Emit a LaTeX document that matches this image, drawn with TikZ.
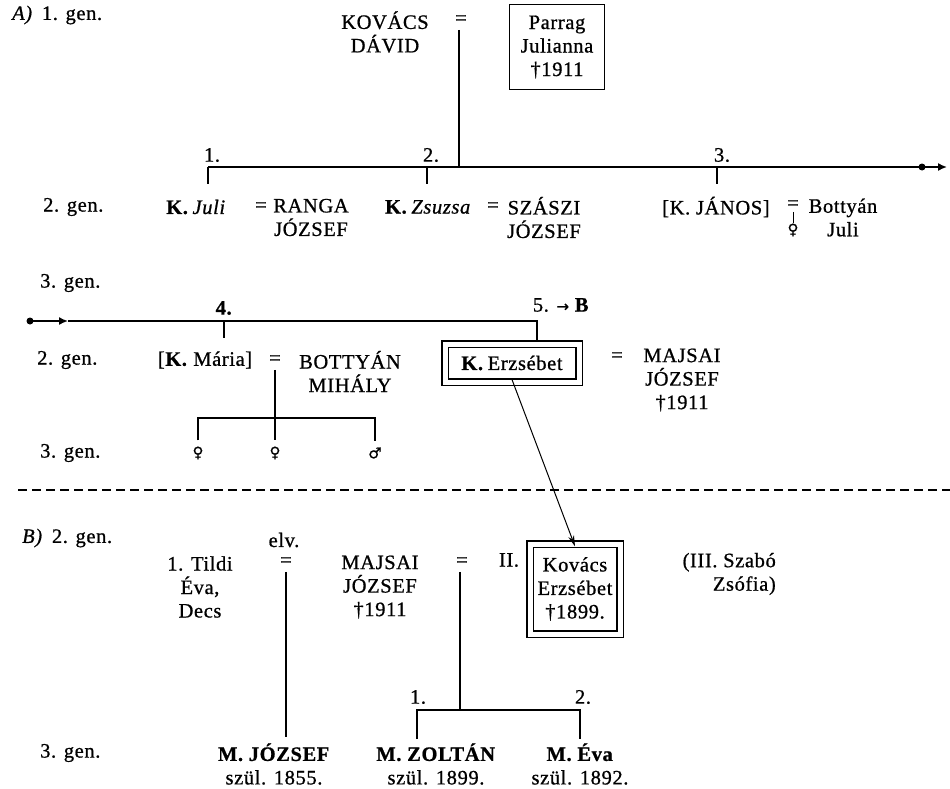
\documentclass[tikz,border=0pt]{standalone}
\usepackage{fontspec}
\setmainfont[LetterSpace=3,FakeBold=0.8]{Liberation Serif}
\newfontfamily\symf[FakeBold=0.8]{DejaVu Sans}
\usetikzlibrary{arrows.meta}
\newcommand{\kk}{\textbf{K.}\hspace{4pt}}
\begin{document}
\begin{tikzpicture}[x=1pt,y=-1pt,
  every node/.style={font=\fontsize{20.5}{23.5}\selectfont, inner sep=0pt, align=center},
  lw/.style={line width=1.6pt},
  thinline/.style={line width=1pt},
  lbl/.style={anchor=west},
  sym/.style={font=\symf\fontsize{15}{15}\selectfont},
  dbox/.style={draw, double, double distance=5pt, line width=1.2pt},
  sbox/.style={draw, line width=1.5pt},
  tip/.style={-{Latex[length=9pt,width=8pt]}}]
\useasboundingbox (0,0) rectangle (950,789);

% ---------------- A) 1. gen.
\node[lbl] (hA) at (12,15) {\textit{A)}\, 1. gen.};
\node (kovacs) at (385,32) {KOVÁCS\\DÁVID};
\node (eqA) at (461,20) {=};
\node[sbox, minimum width=95pt, minimum height=85pt] (parrag) at (557,47) {Parrag\\Julianna\\†1911};

\coordinate (jA) at (459,167);
\draw[lw] ([yshift=-5pt]eqA.south -| jA) -- (jA);
\coordinate (lineL) at (208,167);
\coordinate (dotR) at (922,167);
\coordinate (lineR) at (947,167);
\draw[lw] (lineL) -- (dotR);
\fill (dotR) circle (3.5pt);
\draw[lw,tip] (dotR) -- (lineR);

\node (n1) at (212,155) {1.};
\node (n2) at (431,155) {2.};
\node (n3) at (722,155) {3.};
\coordinate (t1) at (208,184);
\coordinate (t2) at (427,184);
\coordinate (t3) at (717,184);
\draw[lw] (lineL) -- (t1);
\draw[lw] (lineL -| t2) -- (t2);
\draw[lw] (lineL -| t3) -- (t3);

% ---------------- 2. gen. row
\node[lbl] (g2a) at (43,207) {2. gen.};
\node (juli) at (196,207) {\kk\textit{Juli}};
\node (eq1) at (261,207) {=};
\node (ranga) at (311,217.5) {RANGA\\JÓZSEF};
\node (zsuzsa) at (428,207) {\kk\textit{Zsuzsa}};
\node (eq2) at (493,207) {=};
\node (szaszi) at (544,217.5) {SZÁSZI\\JÓZSEF};
\node (janos) at (716,207) {[K. JÁNOS]};
\node (eq3) at (793,205) {=};
\node (bottyanj) at (843,217.5) {Bottyán\\Juli};
\node[sym] (venusJ) at (793,230) {♀};
\draw[thinline] ([yshift=-2pt]eq3.south) -- (venusJ.north);

% ---------------- middle section
\node[lbl] (g3a) at (40,283) {3. gen.};
\coordinate (mL) at (30,321);
\coordinate (mA) at (68,321);
\coordinate (mC) at (537,321);
\fill (mL) circle (3.5pt);
\draw[lw,tip] (mL) -- (mA);
\node[dbox, minimum width=134pt, minimum height=38pt] (erz) at (512,363) {\kk Erzsébet};
\draw[lw] (mA) -- (mC) -- ([yshift=3pt]erz.north -| mC);

\node (n4) at (224,308) {\textbf{4.}};
\coordinate (t4) at (224,338);
\draw[lw] (mL -| t4) -- (t4);
\node (n5) at (561,305) {5. {\symf\fontsize{15}{15}\selectfont →} \textbf{B}};

\node[lbl] (g2b) at (37,360) {2. gen.};
\node (maria) at (205,360) {[\textbf{K.} Mária]};
\node (eq4) at (275,360) {=};
\node (bottyanm) at (350,371.5) {BOTTYÁN\\MIHÁLY};

\coordinate (bj) at (275,418);
\coordinate (bl) at (198,418);
\coordinate (br) at (375,418);
\node[sym] (c1) at (198,453) {♀};
\node[sym] (c2) at (275,453) {♀};
\node[sym] (c3) at (375,453) {♂};
\draw[lw] ([yshift=-5pt]eq4.south) -- (bj) -- ([yshift=6pt]c2.north);
\draw[lw] ([yshift=6pt]c1.north) -- (bl) -- (br) -- ([yshift=6pt]c3.north);
\node[lbl] (g3b) at (40,453) {3. gen.};

\node (eq5) at (617,357) {=};
\node (majsaiA) at (682,380) {MAJSAI\\JÓZSEF\\†1911};

% dashed separator
\draw[lw, dash pattern=on 9pt off 5pt] (18,490) -- (950,490);

% ---------------- B)
\node[lbl] (hB) at (22,538) {\textit{B)}\, 2. gen.};
\node (elv) at (284,540) {elv.};
\node (tildi) at (200,587) {1. Tildi\\Éva,\\Decs};
\node (eq6) at (286,562) {=};
\node (majsaiB) at (380,587) {MAJSAI\\JÓZSEF\\†1911};
\node (eq7) at (462,562) {=};
\node (ii) at (509,560) {II.};
\node[dbox, minimum width=90pt, minimum height=90pt] (kovE) at (575,589) {Kovács\\Erzsébet\\†1899.};
\node[anchor=east, align=right] (szabo) at (776,574) {(III. Szabó\\Zsófia)};

\draw[thinline,-{Stealth[length=11pt,width=6pt]}] ([yshift=3pt]erz.south) -- ([yshift=-3pt]kovE.north);

\node[lbl] (g3c) at (40,753) {3. gen.};
\node (mjozsef) at (274,764) {\textbf{M. JÓZSEF}\\szül. 1855.};
\node (zoltan) at (436,764) {\textbf{M. ZOLTÁN}\\szül. 1899.};
\node (meva) at (580,764) {\textbf{M. Éva}\\szül. 1892.};

\draw[lw] ([yshift=-5pt]eq6.south) -- ([yshift=6pt]eq6 |- mjozsef.north);
\coordinate (zj) at (460,710);
\coordinate (zl) at (417,710);
\coordinate (zr) at (580,710);
\draw[lw] ([yshift=-5pt]eq7.south -| zj) -- (zj);
\draw[lw] ([yshift=4pt]zl |- zoltan.north) -- (zl) -- (zr) -- ([yshift=4pt]zr |- meva.north);
\node (n1b) at (418,697) {1.};
\node (n2b) at (583,697) {2.};
\end{tikzpicture}
\end{document}
